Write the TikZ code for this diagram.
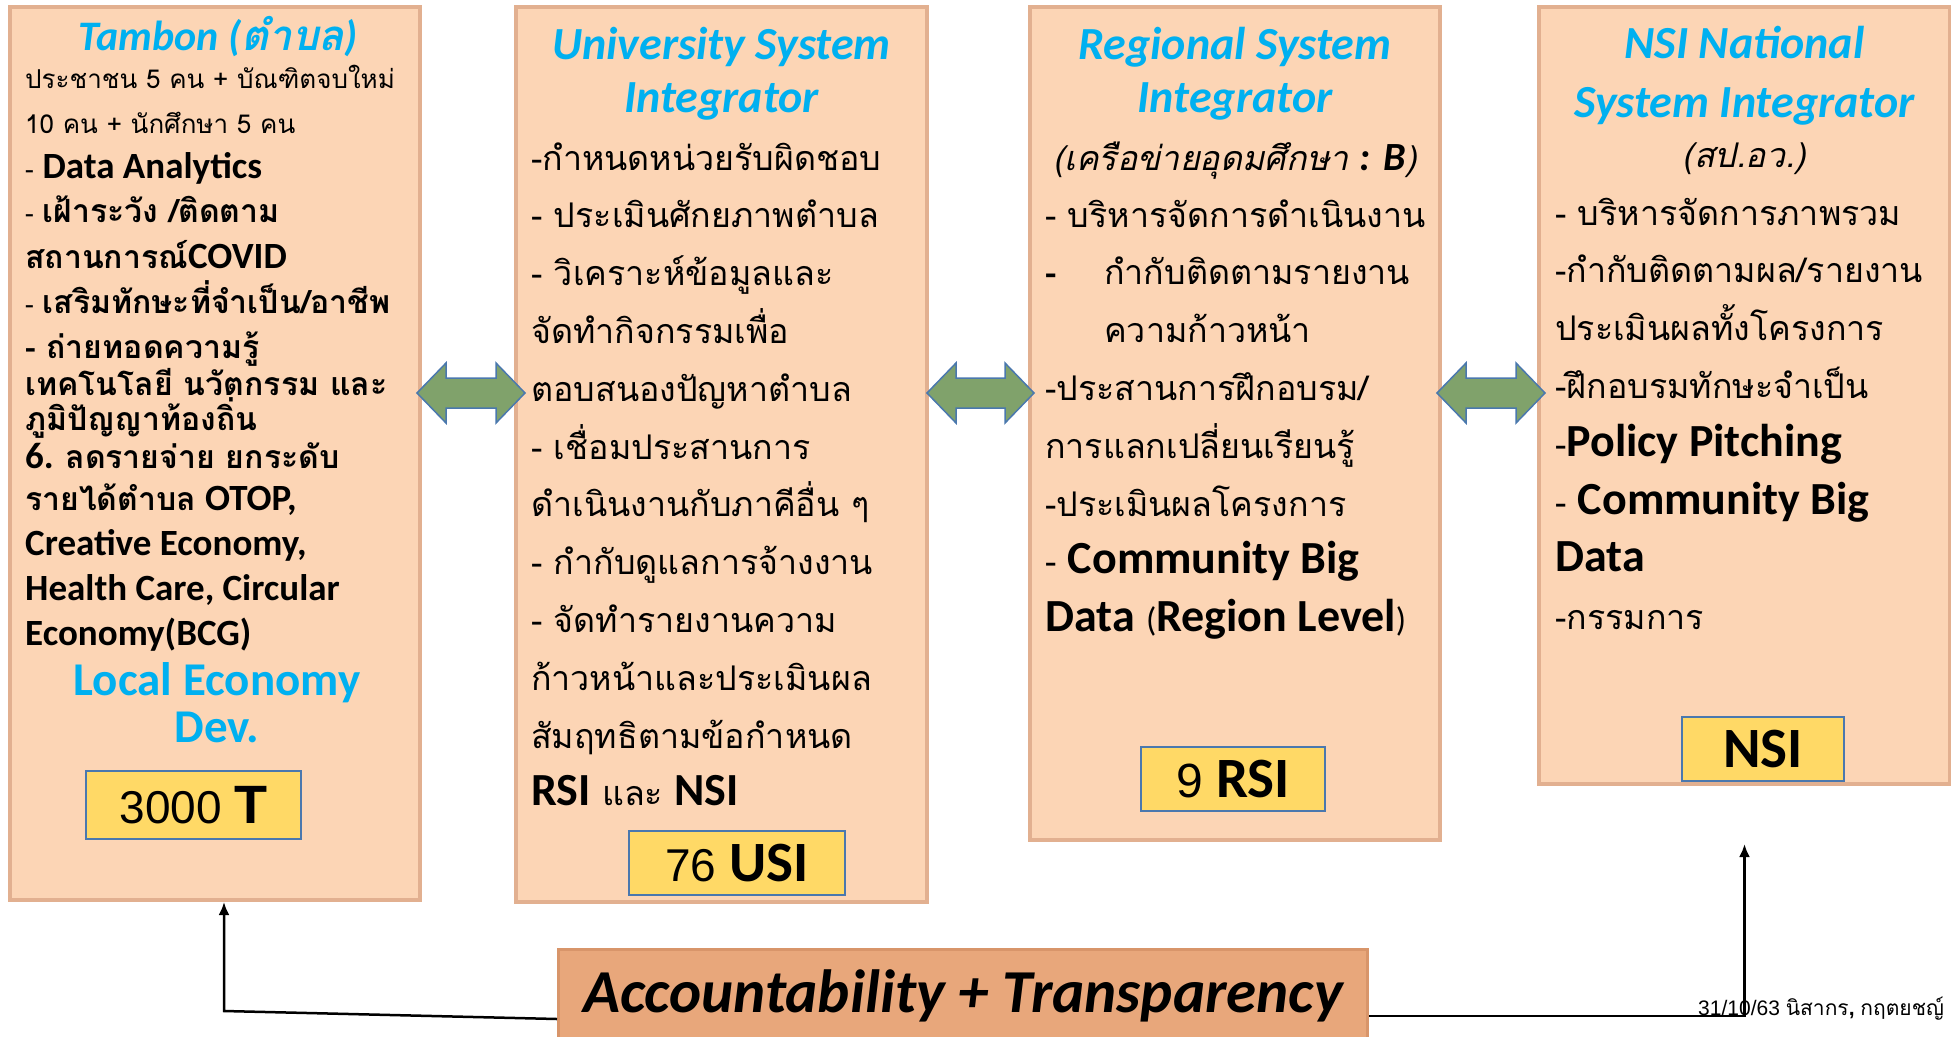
\documentclass[tikz,border=0pt]{standalone}
\usepackage{fontspec}
\setmainfont{Carlito}
\newfontfamily\thai[Script=Thai]{Loma}
\newfontfamily\arial{Liberation Sans}
\usetikzlibrary{calc,arrows.meta}

\definecolor{peach}{HTML}{FCD5B5}
\definecolor{rim}{HTML}{E2B090}
\definecolor{clay}{HTML}{E8A77B}
\definecolor{clayrim}{HTML}{D8956A}
\definecolor{gold}{HTML}{FFD966}
\definecolor{steel}{HTML}{4A78AE}
\definecolor{olive}{HTML}{80A26B}
\definecolor{sky}{HTML}{00B0F0}

\newcommand\eb[1]{{\rmfamily\bfseries\fontsize{37}{40}\selectfont #1}}
\newcommand\hb[1]{{\rmfamily\bfseries\fontsize{46}{50}\selectfont #1}}

% double arrow between two panels, tips pushed by #3 and #4
\newcommand\twoway[4]{%
  \coordinate (tipl) at ($(#1.east|-row)+(#3,0)$);
  \coordinate (tipr) at ($(#2.west|-row)+(#4,0)$);
  \draw[dblarrow] (tipl) -- ++(29,-30) -- ++(0,15) -- ($(tipr)+(-29,-15)$) -- ++(0,-15) -- (tipr)
    -- ++(-29,30) -- ++(0,-15) -- ($(tipl)+(29,15)$) -- ++(0,15) -- cycle;}

\tikzset{
  panel/.style={draw=rim, line width=4, fill=peach, inner sep=0, anchor=north west},
  badge/.style={draw=steel, line width=1.5, fill=gold, inner sep=0},
  ttl/.style={text=sky, inner sep=0, anchor=base, font=\rmfamily\bfseries\itshape\fontsize{46}{50}\selectfont},
  txt/.style={anchor=base west, inner sep=0, font=\thai\fontsize{34}{40}\selectfont},
  tamtxt/.style={txt, font=\thai\fontsize{26}{32}\selectfont},
  localttl/.style={text=sky, inner sep=0, anchor=base, font=\rmfamily\bfseries\fontsize{47}{50}\selectfont},
  dblarrow/.style={draw=steel, line width=1.5, fill=olive},
  feed/.style={draw=black, line width=2.5, -{Latex[length=13pt,width=11pt]}},
}

\begin{document}
\begin{tikzpicture}[x=1pt,y=-1pt]
\useasboundingbox (0,0) rectangle (1951,1036);

% the four panels
\node[panel, minimum width=410, minimum height=893] (tambon) at (8,5) {};
\node[panel, minimum width=411, minimum height=895] (usi) at (514,5) {};
\node[panel, minimum width=410, minimum height=833] (rsi) at (1028,5) {};
\node[panel, minimum width=411, minimum height=777] (nsi) at (1537,5) {};

% arrows between panels
\coordinate (row) at (0,393);
\twoway{tambon}{usi}{-5}{11}
\twoway{usi}{rsi}{-2}{6}
\twoway{rsi}{nsi}{-5}{8}

% Tambon
\node[ttl, font=\rmfamily\bfseries\itshape\fontsize{42}{46}\selectfont] (tambonttl) at ($(tambon.north)+(3,45)$) {Tambon ({\thai ตำบล})};
\foreach \y/\t in {88/{ประชาชน 5 คน + บัณฑิตจบใหม่},
    133/{10 คน + นักศึกษา 5 คน},
    178/{- \eb{Data Analytics}},
    222/{- {\bfseries\fontsize{32}{40}\selectfont เฝ้าระวัง /ติดตาม}},
    268/{{\bfseries\fontsize{32}{40}\selectfont สถานการณ์}\eb{COVID}},
    313/{- {\bfseries\fontsize{32}{40}\selectfont เสริมทักษะที่จำเป็น/อาชีพ}},
    358/{{\bfseries\fontsize{32}{40}\selectfont - ถ่ายทอดความรู้}},
    395/{{\bfseries\fontsize{32}{40}\selectfont เทคโนโลยี นวัตกรรม และ}},
    430/{{\bfseries\fontsize{32}{40}\selectfont ภูมิปัญญาท้องถิ่น}},
    468/{\eb{6.} {\bfseries\fontsize{32}{40}\selectfont ลดรายจ่าย ยกระดับ}},
    510/{{\bfseries\fontsize{32}{40}\selectfont รายได้ตำบล} \eb{OTOP,}},
    555/{\eb{Creative Economy,}},
    600/{\eb{Health Care, Circular}},
    645/{\eb{Economy(BCG)}}}
  \node[tamtxt] (tam\y) at ($(tambon.north west)+(17,\y-5)$) {\t};
\node[localttl] (local1) at ($(tambon.north)+(2,690)$) {Local Economy};
\node[localttl] (local2) at ($(tambon.north)+(2,737)$) {Dev.};
\node[badge, minimum width=215, minimum height=68] (tcount) at (193.5,805)
  {\arial\fontsize{46}{46}\selectfont 3000 {\bfseries\fontsize{54}{54}\selectfont T}};

% University System Integrator
\node[ttl] (usittl1) at ($(usi.north)+(0,54)$) {University System};
\node[ttl] (usittl2) at ($(usi.north)+(0,107)$) {Integrator};
\foreach \t [count=\i from 0] in {{-กำหนดหน่วยรับผิดชอบ}, {- ประเมินศักยภาพตำบล},
    {- วิเคราะห์ข้อมูลและ}, {จัดทำกิจกรรมเพื่อ}, {ตอบสนองปัญหาตำบล},
    {- เชื่อมประสานการ}, {ดำเนินงานกับภาคีอื่น ๆ}, {- กำกับดูแลการจ้างงาน},
    {- จัดทำรายงานความ}, {ก้าวหน้าและประเมินผล}, {สัมฤทธิตามข้อกำหนด},
    {\hb{RSI} และ \hb{NSI}}}
  \node[txt] (usi\i) at ($(usi.north west)+(17,{165+57.8*\i})$) {\t};
\node[badge, minimum width=216, minimum height=64] (ucount) at (737,863)
  {\arial\fontsize{46}{46}\selectfont 76 \hb{\fontsize{57}{57}\selectfont USI}};

% Regional System Integrator
\node[ttl] (rsittl1) at ($(rsi.north)+(0,54)$) {Regional System};
\node[ttl] (rsittl2) at ($(rsi.north)+(0,107)$) {Integrator};
\node[txt, anchor=base, font=\thai\itshape\fontsize{34}{40}\selectfont] (rsinet) at ($(rsi.north)+(0,165)$)
  {(เครือข่ายอุดมศึกษา {\rmfamily\bfseries\fontsize{40}{40}\selectfont : B})};
\foreach \t [count=\i from 0] in {{- บริหารจัดการดำเนินงาน},
    {\makebox[59pt][l]{\bfseries -}กำกับติดตามรายงาน}, {\hspace*{59pt}ความก้าวหน้า},
    {-ประสานการฝึกอบรม/}, {การแลกเปลี่ยนเรียนรู้}, {-ประเมินผลโครงการ},
    {- \hb{Community Big}}, {\hb{Data} {\rmfamily(}\hb{Region Level}{\rmfamily)}}}
  \node[txt] (rsi\i) at ($(rsi.north west)+(17,{222+57.8*\i})$) {\t};
\node[badge, minimum width=184, minimum height=64] (rcount) at (1233,779)
  {\arial\fontsize{48}{48}\selectfont 9 \hb{\fontsize{57}{57}\selectfont RSI}};

% NSI National System Integrator
\node[ttl] (nsittl1) at ($(nsi.north)+(0,53)$) {NSI National};
\node[ttl] (nsittl2) at ($(nsi.north)+(0,112)$) {System Integrator};
\node[txt, anchor=base, font=\thai\itshape\fontsize{34}{40}\selectfont] (nsioffice) at ($(nsi.north)+(0,162)$) {(สป.อว.)};
\foreach \t [count=\i from 0] in {{- บริหารจัดการภาพรวม}, {-กำกับติดตามผล/รายงาน},
    {ประเมินผลทั้งโครงการ}, {-ฝึกอบรมทักษะจำเป็น}, {-\hb{Policy Pitching}},
    {- \hb{Community Big}}, {\hb{Data}}, {-กรรมการ}}
  \node[txt] (nsi\i) at ($(nsi.north west)+(18,{220+57.8*\i})$) {\t};
\node[badge, minimum width=162, minimum height=64] (ncount) at (1763,749)
  {\hb{\fontsize{57}{57}\selectfont NSI}};

% Accountability + Transparency
\node[draw=clayrim, line width=3, fill=clay, inner sep=0, anchor=north west,
  minimum width=809, minimum height=92, font=\rmfamily\bfseries\itshape\fontsize{61}{64}\selectfont]
  (acct) at (557,948) {Accountability + Transparency};
\coordinate (lfoot) at ($(acct.south west)+(0,-24)$);
\coordinate (lbend) at (224,1011);
\draw[feed] (lfoot) -- (lbend) -- (lbend |- tambon.south);
\coordinate (rfoot) at ($(acct.south east)+(0,-27)$);
\coordinate (rtip) at ($(nsi.south)+(0,58)$);
\draw[feed] (rfoot) -- (rfoot -| rtip) -- (rtip);

\node[anchor=base west, inner sep=0, font=\arial\fontsize{21}{22}\selectfont] (stamp) at (1698,1015)
  {31/10/63 {\thai นิสากร}{\bfseries ,} {\thai กฤตยชญ์}};
\end{tikzpicture}
\end{document}
